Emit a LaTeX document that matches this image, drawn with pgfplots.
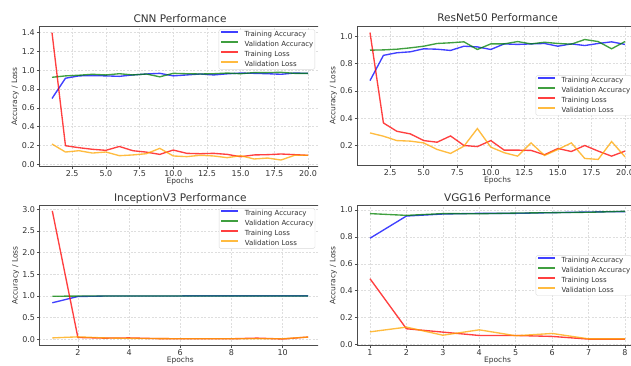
\documentclass[border=0pt]{standalone}
\usepackage{pgfplots}
\pgfplotsset{compat=1.18}
\usepackage{fontspec}
\setmainfont{DejaVu Sans}
\definecolor{mblue}{RGB}{0,0,255}
\definecolor{mgreen}{RGB}{0,128,0}
\definecolor{mred}{RGB}{255,0,0}
\definecolor{morange}{RGB}{255,165,0}
\pgfplotsset{
  perf/.style={
    scale only axis,
    axis line style={black!70, line width=0.6pt},
    tick align=outside, major tick length=2.4pt,
    tick style={black!70, line width=0.5pt},
    tick pos=left,
    grid=major,
    major grid style={black!13, line width=0.45pt, dash pattern=on 2pt off 1.5pt},
    ticklabel style={font=\fontsize{8}{9}\selectfont, text=black!80},
    xticklabel style={inner sep=0pt, anchor=north, yshift=-1.4pt},
    yticklabel style={inner sep=0pt, anchor=east, xshift=-1.9pt},
    /pgf/number format/assume math mode=true,
    title style={font=\fontsize{10.5}{12}\selectfont, text=black!80, at={(axis description cs:0.5,1)}, anchor=base, yshift=-2pt},
    xlabel style={font=\fontsize{7.5}{9}\selectfont, text=black!80, at={(axis description cs:0.5,0)}, anchor=base, yshift=-16.3pt},
    ylabel style={font=\fontsize{7.5}{9}\selectfont, text=black!80, at={(axis description cs:-0.085,0.5)}, anchor=center},
    xlabel={Epochs}, ylabel={Accuracy / Loss},
    legend cell align=left,
    legend style={font=\fontsize{7}{8}\selectfont, text=black!80, draw=black!15, fill=white, rounded corners=1.5pt,
      inner xsep=1.5pt, inner ysep=1.5pt, row sep=3.5pt,
      nodes={inner sep=0pt, text height=5.2pt, text depth=1.3pt},
      /tikz/every odd column/.append style={column sep=5.7pt}},
    legend image code/.code={\draw[#1, line width=1.5pt] (0pt,2.6pt) -- (17pt,2.6pt);},
    every axis plot/.append style={line width=1.35pt, opacity=0.75, mark=none},
  },
  x1d/.style={xticklabel style={/pgf/number format/.cd, fixed, fixed zerofill, precision=1}},
  y1d/.style={yticklabel style={/pgf/number format/.cd, fixed, fixed zerofill, precision=1}},
}
\begin{document}
\begin{tikzpicture}[x=1pt,y=1pt]
\useasboundingbox (0,0) rectangle (631,365);
% ---------------- CNN ----------------
\begin{scope}
\clip (0,180) rectangle (318,365);
\begin{axis}[perf, x1d, y1d, at={(39.2pt,198.3pt)}, anchor=south west,
  width=281.6pt, height=140.7pt,
  xmin=0.05, xmax=20.95, ymin=-0.025, ymax=1.47,
  xtick={2.5,5,7.5,10,12.5,15,17.5,20}, ytick={0,0.2,0.4,0.6,0.8,1.0,1.2,1.4},
  title={CNN Performance},
  legend style={at={(axis description cs:1,1)}, anchor=north east, xshift=-5.8pt, yshift=-3.3pt}]
\addplot[mblue] coordinates {(1,0.70)(2,0.915)(3,0.94)(4,0.943)(5,0.94)(6,0.935)(7,0.95)(8,0.96)(9,0.967)(10,0.94)(11,0.95)(12,0.96)(13,0.95)(14,0.962)(15,0.97)(16,0.967)(17,0.963)(18,0.957)(19,0.97)(20,0.967)};
\addplot[mgreen] coordinates {(1,0.925)(2,0.94)(3,0.947)(4,0.957)(5,0.95)(6,0.963)(7,0.95)(8,0.96)(9,0.93)(10,0.967)(11,0.963)(12,0.96)(13,0.963)(14,0.97)(15,0.963)(16,0.975)(17,0.975)(18,0.978)(19,0.967)(20,0.967)};
\addplot[mred] coordinates {(1,1.40)(2,0.198)(3,0.177)(4,0.16)(5,0.149)(6,0.19)(7,0.145)(8,0.13)(9,0.106)(10,0.152)(11,0.117)(12,0.113)(13,0.117)(14,0.106)(15,0.081)(16,0.10)(17,0.103)(18,0.11)(19,0.103)(20,0.096)};
\addplot[morange] coordinates {(1,0.216)(2,0.131)(3,0.145)(4,0.12)(5,0.131)(6,0.092)(7,0.10)(8,0.113)(9,0.17)(10,0.089)(11,0.082)(12,0.096)(13,0.089)(14,0.071)(15,0.092)(16,0.057)(17,0.067)(18,0.046)(19,0.096)(20,0.096)};
\legend{Training Accuracy, Validation Accuracy, Training Loss, Validation Loss}
\end{axis}
\end{scope}
% ---------------- ResNet50 ----------------
\begin{scope}
\clip (318,180) rectangle (631,365);
\begin{axis}[perf, x1d, y1d, at={(357.25pt,199.3pt)}, anchor=south west,
  width=280.5pt, height=139.7pt,
  xmin=0.05, xmax=20.95, ymin=0.052, ymax=1.075,
  xtick={2.5,5,7.5,10,12.5,15,17.5,20}, ytick={0.2,0.4,0.6,0.8,1.0},
  title={ResNet50 Performance},
  legend style={at={(axis description cs:1,0.5)}, anchor=east, xshift=-5.8pt, yshift=0.35pt}]
\addplot[mblue] coordinates {(1,0.675)(2,0.86)(3,0.879)(4,0.886)(5,0.908)(6,0.905)(7,0.896)(8,0.927)(9,0.922)(10,0.903)(11,0.944)(12,0.94)(13,0.944)(14,0.947)(15,0.927)(16,0.944)(17,0.932)(18,0.947)(19,0.959)(20,0.94)};
\addplot[mgreen] coordinates {(1,0.898)(2,0.90)(3,0.905)(4,0.915)(5,0.927)(6,0.947)(7,0.952)(8,0.959)(9,0.903)(10,0.944)(11,0.944)(12,0.961)(13,0.944)(14,0.956)(15,0.947)(16,0.942)(17,0.976)(18,0.961)(19,0.908)(20,0.961)};
\addplot[mred] coordinates {(1,1.027)(2,0.365)(3,0.304)(4,0.285)(5,0.236)(6,0.224)(7,0.27)(8,0.2)(9,0.192)(10,0.236)(11,0.166)(12,0.166)(13,0.164)(14,0.132)(15,0.178)(16,0.156)(17,0.2)(18,0.159)(19,0.122)(20,0.159)};
\addplot[morange] coordinates {(1,0.292)(2,0.268)(3,0.236)(4,0.232)(5,0.219)(6,0.171)(7,0.142)(8,0.195)(9,0.324)(10,0.188)(11,0.147)(12,0.122)(13,0.219)(14,0.127)(15,0.171)(16,0.219)(17,0.105)(18,0.098)(19,0.229)(20,0.117)};
\legend{Training Accuracy, Validation Accuracy, Training Loss, Validation Loss}
\end{axis}
\end{scope}
% ---------------- InceptionV3 ----------------
\begin{scope}
\clip (0,0) rectangle (318,180);
\begin{axis}[perf, y1d, at={(39.5pt,19.3pt)}, anchor=south west,
  width=281.5pt, height=140.7pt,
  xmin=0.5, xmax=11.5, ymin=-0.15, ymax=3.095,
  xtick={2,4,6,8,10}, ytick={0,0.5,1.0,1.5,2.0,2.5,3.0},
  title={InceptionV3 Performance},
  legend style={at={(axis description cs:1,1)}, anchor=north east, xshift=-5.8pt, yshift=-3.3pt}]
\addplot[mblue] coordinates {(1,0.84)(2,0.985)(3,0.995)(4,0.997)(5,0.998)(6,0.998)(7,0.999)(8,0.999)(9,0.999)(10,0.999)(11,0.999)};
\addplot[mgreen] coordinates {(1,0.99)(2,0.995)(3,0.997)(4,0.998)(5,0.998)(6,0.998)(7,0.998)(8,0.998)(9,0.998)(10,0.997)(11,0.995)};
\addplot[mred] coordinates {(1,2.96)(2,0.04)(3,0.025)(4,0.03)(5,0.015)(6,0.01)(7,0.012)(8,0.01)(9,0.025)(10,0.005)(11,0.05)};
\addplot[morange] coordinates {(1,0.03)(2,0.054)(3,0.03)(4,0.02)(5,0.015)(6,0.01)(7,0.012)(8,0.01)(9,0.012)(10,0.01)(11,0.05)};
\legend{Training Accuracy, Validation Accuracy, Training Loss, Validation Loss}
\end{axis}
\end{scope}
% ---------------- VGG16 ----------------
\begin{scope}
\clip (318,0) rectangle (631,180);
\begin{axis}[perf, y1d, at={(357.25pt,19.3pt)}, anchor=south west,
  width=280.5pt, height=140.7pt,
  xmin=0.65, xmax=8.35, ymin=-0.009, ymax=1.037,
  xtick={1,2,3,4,5,6,7,8}, ytick={0,0.2,0.4,0.6,0.8,1.0},
  title={VGG16 Performance},
  legend style={at={(axis description cs:1,0.5)}, anchor=east, xshift=-5.8pt, yshift=-0.15pt}]
\addplot[mblue] coordinates {(1,0.79)(2,0.955)(3,0.97)(4,0.975)(5,0.975)(6,0.98)(7,0.985)(8,0.988)};
\addplot[mgreen] coordinates {(1,0.973)(2,0.96)(3,0.973)(4,0.972)(5,0.977)(6,0.98)(7,0.983)(8,0.99)};
\addplot[mred] coordinates {(1,0.489)(2,0.117)(3,0.092)(4,0.067)(5,0.067)(6,0.06)(7,0.04)(8,0.04)};
\addplot[morange] coordinates {(1,0.094)(2,0.129)(3,0.069)(4,0.109)(5,0.065)(6,0.082)(7,0.042)(8,0.042)};
\legend{Training Accuracy, Validation Accuracy, Training Loss, Validation Loss}
\end{axis}
\end{scope}
\end{tikzpicture}
\end{document}
